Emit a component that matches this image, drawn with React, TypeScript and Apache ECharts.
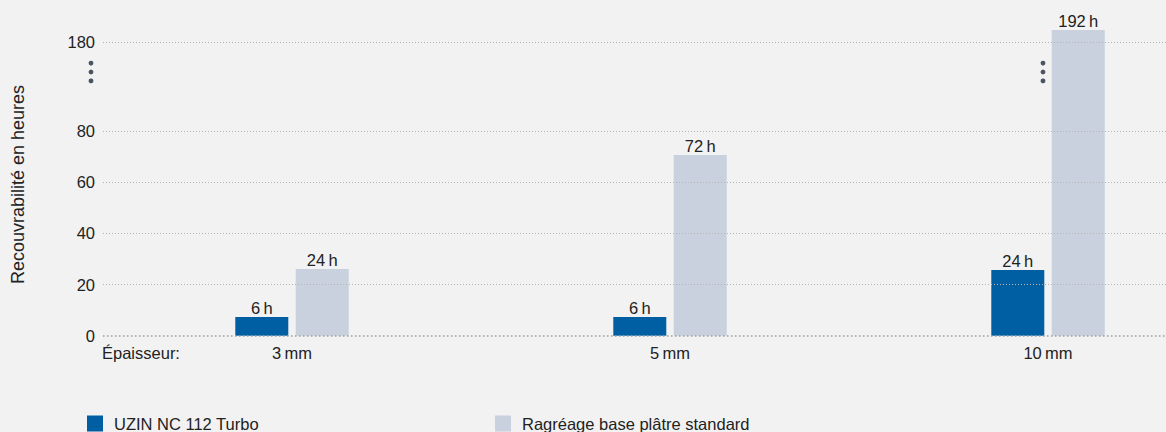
import React, { useEffect, useRef } from "react";
import * as echarts from "echarts";

const categories = ["3\u2009mm", "5\u2009mm", "10\u2009mm"];
const seriesNames = ["UZIN NC 112 Turbo", "Ragréage base plâtre standard"];
// bar heights as drawn on the (broken) scale
const uzinHeights = [7.3, 7.3, 25.7];
const uzinLabels = ["6\u2009h", "6\u2009h", "24\u2009h"];
const standardHeights = [26.1, 70.7, 119.6];
const standardLabels = ["24\u2009h", "72\u2009h", "192\u2009h"];
// gridline positions on the drawn scale and the labels shown for them
const tickPositions = [0, 20, 40, 60, 80, 114.8];
const tickLabels = ["0", "20", "40", "60", "80", "180"];
// break marker dots (drawn scale)
const breakDots = [99.7, 103.2, 106.7];
const yAxisTitle = "Recouvrabilité en heures";
const xAxisTitle = "Épaisseur:";

const FONT = "'Liberation Sans', Arial, sans-serif";
const FS = 16.5;
const TEXT = "#222222";
const BLUE = "#005fa3";
const GREY = "#c8d1dd";

export default function App() {
  const ref = useRef<HTMLDivElement>(null);
  useEffect(() => {
    document.body.style.margin = "0";
    const chart = echarts.init(ref.current!, null, { renderer: "svg" });
    const option: any = {
      animation: false,
      backgroundColor: "#f2f2f2",
      textStyle: { fontFamily: FONT },
      grid: {
        left: 103,
        width: 1134,
        top: 16.3,
        height: 319.4,
        containLabel: false,
        outerBoundsMode: "none",
      },
      legend: [
        {
          data: [seriesNames[0]],
          left: 87,
          top: 415,
          itemWidth: 16,
          itemHeight: 16,
          icon: "rect",
          textStyle: { fontSize: FS, color: TEXT, fontFamily: FONT, padding: [0, 0, 0, 6] },
          padding: 0,
        },
        {
          data: [seriesNames[1]],
          left: 495,
          top: 415,
          itemWidth: 16,
          itemHeight: 16,
          icon: "rect",
          textStyle: { fontSize: FS, color: TEXT, fontFamily: FONT, padding: [0, 0, 0, 6] },
          padding: 0,
        },
      ],
      xAxis: {
        type: "category",
        data: categories,
        axisLine: { show: false },
        axisTick: { show: false },
        axisLabel: { color: TEXT, fontSize: FS, margin: 9, fontFamily: FONT },
      },
      yAxis: {
        type: "value",
        min: 0,
        max: 125,
        axisLine: { show: false },
        axisTick: { show: false },
        axisLabel: { show: false },
        splitLine: { show: false },
      },
      series: [
        {
          type: "line",
          name: "grid",
          data: [null, null, null],
          showSymbol: false,
          silent: true,
          z: 1,
          markLine: {
            silent: true,
            symbol: "none",
            animation: false,
            data: tickPositions.map((v, i) => ({
              yAxis: v,
              lineStyle:
                i === 0
                  ? { color: "#9a9a9a", width: 1.5, type: [1.5, 2.5] }
                  : { color: "#b4b4b4", width: 1, type: [1, 2] },
              label: {
                show: true,
                position: "start",
                formatter: tickLabels[i],
                color: TEXT,
                fontSize: FS,
                fontFamily: FONT,
                distance: 8,
              },
            })),
          },
        },
        {
          type: "bar",
          name: seriesNames[0],
          data: uzinHeights,
          barWidth: 53,
          barGap: "14%",
          z: 3,
          itemStyle: { color: BLUE },
          label: {
            show: true,
            position: "top",
            distance: 1,
            color: TEXT,
            fontSize: FS,
            fontFamily: FONT,
            formatter: (p: any) => uzinLabels[p.dataIndex],
          },
        },
        {
          type: "bar",
          name: seriesNames[1],
          data: standardHeights,
          barWidth: 53,
          barGap: "14%",
          z: 3,
          itemStyle: { color: GREY },
          label: {
            show: true,
            position: "top",
            distance: 1,
            color: TEXT,
            fontSize: FS,
            fontFamily: FONT,
            formatter: (p: any) => standardLabels[p.dataIndex],
          },
        },
      ],
    };
    chart.setOption(option);

    const toPx = (c: number, v: number) =>
      chart.convertToPixel({ gridIndex: 0 } as any, [c, v]) as number[];
    const lastX = toPx(categories.length - 1, 0)[0];
    const zeroPx = toPx(0, 0)[1];
    const gridLeft = 103;
    const graphics: any[] = [];
    breakDots.forEach((v) => {
      const y = toPx(0, v)[1];
      graphics.push({ type: "circle", shape: { cx: gridLeft - 12, cy: y, r: 2.4 }, style: { fill: "#4b535d" }, z: 10 });
      graphics.push({ type: "circle", shape: { cx: lastX - 5, cy: y, r: 2.4 }, style: { fill: "#4b535d" }, z: 10 });
    });
    graphics.push({
      type: "text",
      left: 102,
      top: zeroPx + 9,
      style: { text: xAxisTitle, fill: TEXT, fontSize: FS, fontFamily: FONT },
    });
    graphics.push({
      type: "text",
      x: 18,
      y: 184.5,
      rotation: Math.PI / 2,
      style: {
        text: yAxisTitle,
        fill: TEXT,
        fontSize: 18,
        fontFamily: FONT,
        align: "center",
        verticalAlign: "middle",
      },
    });
    chart.setOption({ graphic: graphics });

    return () => chart.dispose();
  }, []);
  return <div ref={ref} style={{ width: 1166, height: 432 }} />;
}
